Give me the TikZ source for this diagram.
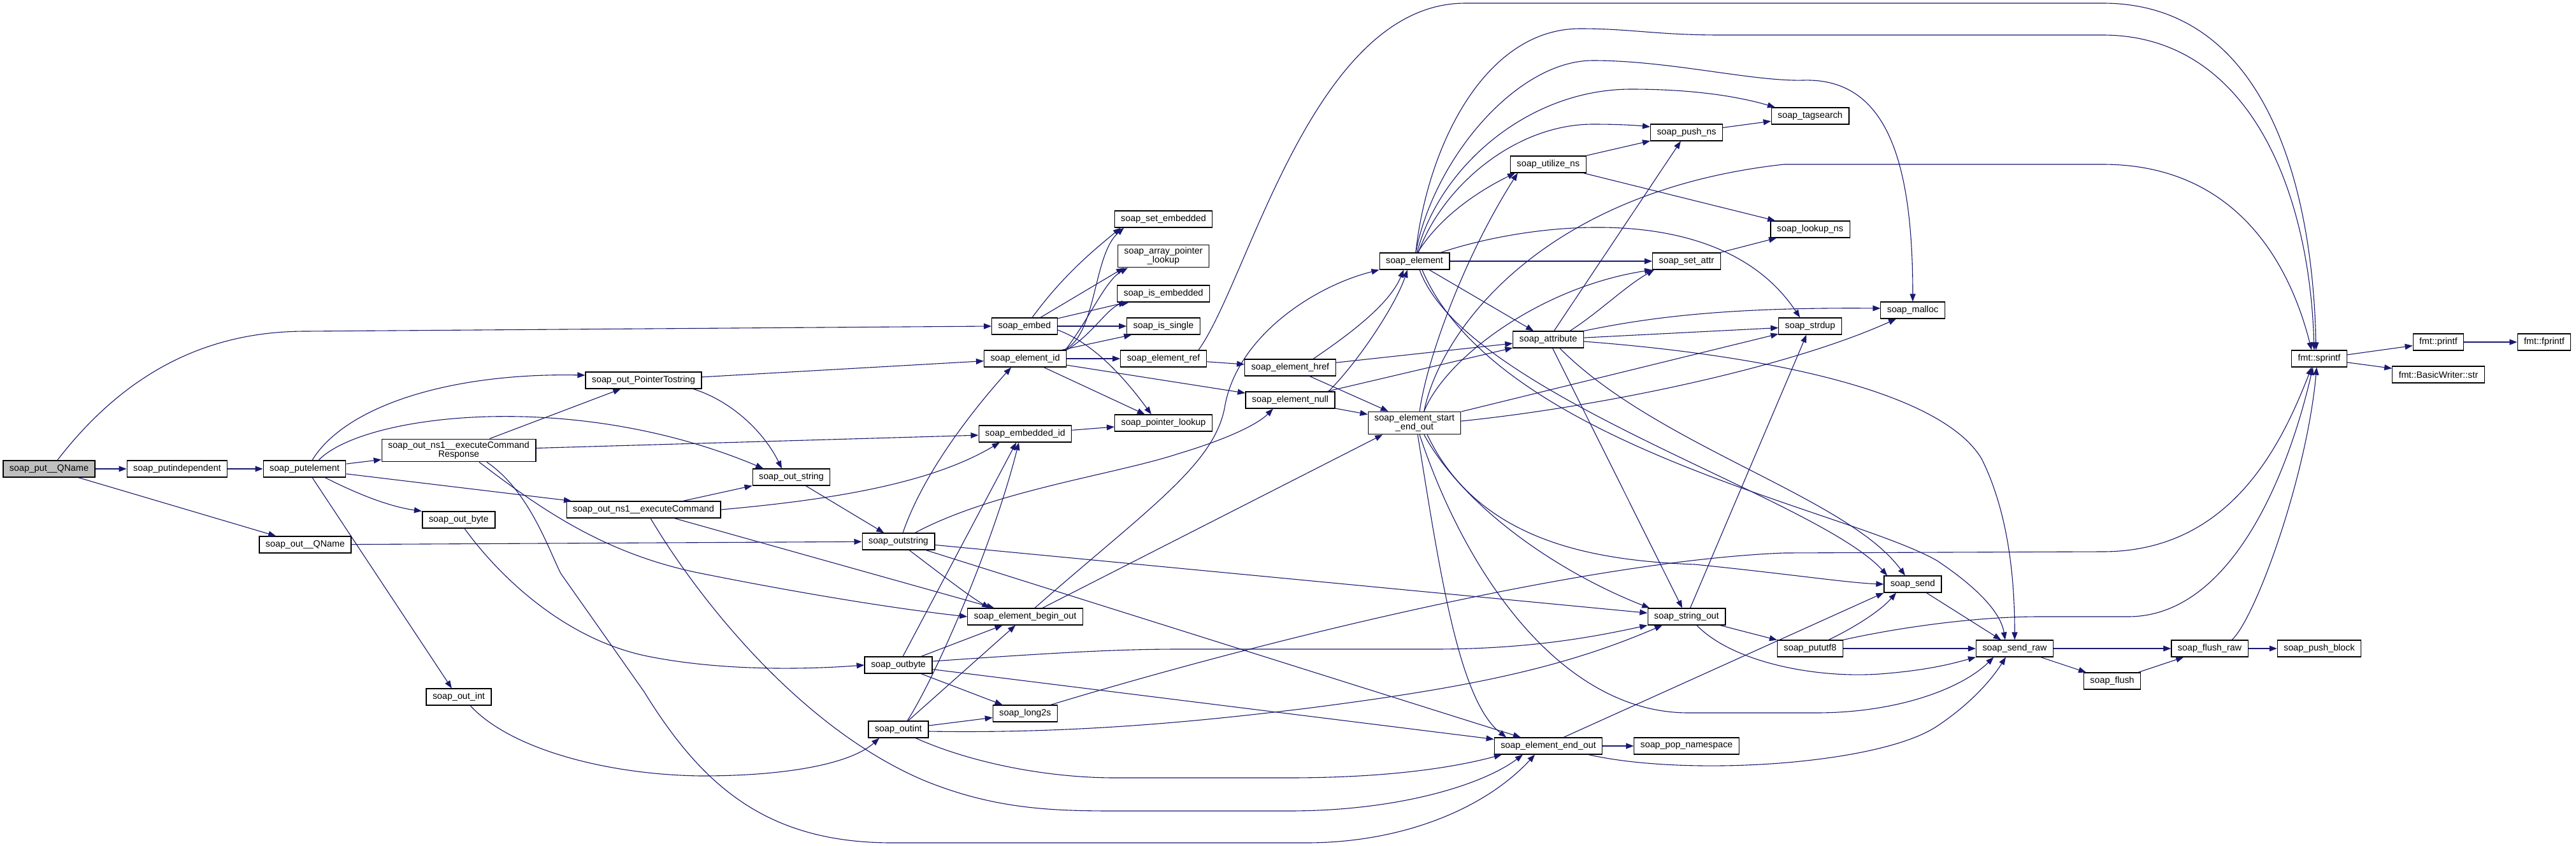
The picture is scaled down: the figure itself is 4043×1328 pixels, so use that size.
\documentclass[tikz,border=0pt]{standalone}
\usepackage{fontspec}
\setmainfont{Liberation Sans}
\usetikzlibrary{arrows.meta}
\definecolor{edgeblue}{HTML}{191970}
\definecolor{rootgray}{HTML}{BFBFBF}
\tikzset{
  box/.style={draw=black, fill=white, line width=1.2pt, font=\fontsize{14.3}{14.3}\selectfont,
    inner xsep=10pt, inner ysep=4pt, minimum height=26pt, align=center},
  call/.style={draw=edgeblue, line width=1.1pt, -{Triangle[length=12pt,width=9pt]}}
}
\begin{document}
\begin{tikzpicture}[x=1pt,y=-1pt]
\fill[white] (0,0) rectangle (4043,1328);

\node[box, fill=rootgray] (root) at (77,736) {soap\_put\_\_QName};
\node[box] (putind) at (278,736) {soap\_putindependent};
\node[box] (putel) at (478,736) {soap\_putelement};
\node[box] (outresp) at (720,707) {soap\_out\_ns1\_\_executeCommand\\Response};
\node[box] (outQN) at (479,855) {soap\_out\_\_QName};
\node[box] (outbyte) at (720,816) {soap\_out\_byte};
\node[box] (outint) at (720,1094) {soap\_out\_int};
\node[box] (outptr) at (1010,597) {soap\_out\_PointerTostring};
\node[box] (outcmd) at (1010,800) {soap\_out\_ns1\_\_executeCommand};
\node[box] (outstr) at (1242,749) {soap\_out\_string};
\node[box] (outstring) at (1410,850) {soap\_outstring};
\node[box] (outbyte2) at (1410,1044) {soap\_outbyte};
\node[box] (outint2) at (1410,1145) {soap\_outint};
\node[box] (embed) at (1608,512) {soap\_embed};
\node[box] (elid) at (1609,563) {soap\_element\_id};
\node[box] (embid) at (1609,681) {soap\_embedded\_id};
\node[box] (beginout) at (1609,968) {soap\_element\_begin\_out};
\node[box] (long2s) at (1609,1120) {soap\_long2s};
\node[box] (setemb) at (1826,344) {soap\_set\_embedded};
\node[box] (arrptr) at (1826,402) {soap\_array\_pointer\\\_lookup};
\node[box] (isemb) at (1826,461) {soap\_is\_embedded};
\node[box] (issingle) at (1826,512) {soap\_is\_single};
\node[box] (elref) at (1826,563) {soap\_element\_ref};
\node[box] (ptrlook) at (1826,664) {soap\_pointer\_lookup};
\node[box] (href) at (2025,577) {soap\_element\_href};
\node[box] (elnull) at (2025,628) {soap\_element\_null};
\node[box] (element) at (2220,410) {soap\_element};
\node[box] (startend) at (2220,664) {soap\_element\_start\\\_end\_out};
\node[box] (utilize) at (2430,258) {soap\_utilize\_ns};
\node[box] (attr) at (2430,533) {soap\_attribute};
\node[box] (endout) at (2430,1171) {soap\_element\_end\_out};
\node[box] (pushns) at (2647,208) {soap\_push\_ns};
\node[box] (setattr) at (2647,410) {soap\_set\_attr};
\node[box] (stringout) at (2647,968) {soap\_string\_out};
\node[box] (popns) at (2647,1171) {soap\_pop\_namespace};
\node[box] (tagsearch) at (2841,182) {soap\_tagsearch};
\node[box] (lookupns) at (2841,360) {soap\_lookup\_ns};
\node[box] (strdup) at (2841,512) {soap\_strdup};
\node[box] (pututf8) at (2841,1018) {soap\_pututf8};
\node[box] (malloc) at (3002,487) {soap\_malloc};
\node[box] (send) at (3002,917) {soap\_send};
\node[box] (sendraw) at (3162,1018) {soap\_send\_raw};
\node[box] (flush) at (3315,1069) {soap\_flush};
\node[box] (flushraw) at (3468,1018) {soap\_flush\_raw};
\node[box] (pushblock) at (3640,1018) {soap\_push\_block};
\node[box] (sprintf) at (3640,563) {fmt::sprintf};
\node[box] (printf) at (3827,537) {fmt::printf};
\node[box] (fprintf) at (3993,537) {fmt::fprintf};
\node[box] (bwstr) at (3827,588) {fmt::BasicWriter::str};

\foreach \a/\b in {root/putind, root/outQN, putind/putel, putel/outresp, putel/outcmd,
  outQN/outstring, outresp/outptr, outresp/embid, outptr/elid, outcmd/outstr, outcmd/beginout,
  outstr/outstring, outstring/stringout, outstring/endout, embed/isemb, embed/issingle,
  elid/elref, elid/elnull, elid/ptrlook, embid/ptrlook, elref/href, element/attr, element/setattr,
  href/attr, href/startend, elnull/startend, elnull/attr, startend/strdup, attr/strdup,
  attr/pushns, attr/stringout, stringout/strdup, stringout/pututf8, pututf8/sendraw,
  send/sendraw, sendraw/flushraw, sendraw/flush, flush/flushraw, flushraw/pushblock,
  sprintf/printf, sprintf/bwstr, printf/fprintf, endout/popns, utilize/pushns,
  utilize/lookupns, pushns/tagsearch, setattr/lookupns, outbyte2/beginout, outbyte2/long2s,
  outbyte2/endout, outint2/beginout, outint2/long2s}
  \draw[call] (\a) -- (\b);

\draw[call] ([xshift=13pt]root.north) .. controls (200,580) and (330,520) .. (480,520) -- (embed.west);
\draw[call] ([xshift=12pt]putel.north) .. controls (540,640) and (700,585) .. ([yshift=8pt]outptr.west);
\draw[call] ([xshift=22pt]putel.north) .. controls (570,650) and (900,610) .. ([xshift=-44pt]outstr.north);
\draw[call] ([xshift=32pt]putel.south) .. controls (560,775) and (610,795) .. ([xshift=-58pt]outbyte.north);
\draw[call] ([xshift=12pt]putel.south) -- ([xshift=-11pt]outint.north);
\draw[call] ([xshift=32pt]outresp.south) .. controls (850,800) and (950,870) .. (1100,900)
  .. controls (1250,930) and (1400,955) .. (beginout.west);
\draw[call] ([xshift=44pt]outresp.south) .. controls (830,770) and (860,860) .. (880,900) -- (1011,1086)
  .. controls (1100,1230) and (1200,1323) .. (1400,1323) -- (2050,1323)
  .. controls (2200,1323) and (2330,1270) .. ([xshift=-21pt]endout.south);
\draw[call] ([xshift=78pt]outptr.south) .. controls (1150,630) and (1200,680) .. ([xshift=-15pt]outstr.north);
\draw[call] (outcmd.east) .. controls (1300,785) and (1460,760) .. ([xshift=-40pt]embid.south);
\draw[call] ([xshift=11pt]outcmd.south) .. controls (1090,930) and (1250,1140) .. (1450,1225)
  .. controls (1560,1270) and (1650,1273) .. (1750,1273) -- (2022,1273)
  .. controls (2200,1273) and (2330,1230) .. ([xshift=-40pt]endout.south);
\draw[call] ([xshift=9pt]outbyte.south) .. controls (780,900) and (880,1000) .. (1011,1029)
  .. controls (1120,1052) and (1250,1052) .. (outbyte2.west);
\draw[call] ([xshift=18pt]outint.south) .. controls (800,1175) and (950,1216) .. (1100,1218)
  .. controls (1250,1218) and (1340,1195) .. ([xshift=-30pt]outint2.south);
\draw[call] ([xshift=7pt]outstring.north) .. controls (1450,740) and (1530,640) .. ([xshift=-22pt]elid.south);
\draw[call] ([xshift=26pt]outstring.north) .. controls (1560,770) and (1750,745) .. (1850,712)
  .. controls (1930,688) and (1975,665) .. ([xshift=-27pt]elnull.south);
\draw[call] ([xshift=17pt]outstring.south) .. controls (1475,900) and (1520,935) .. ([xshift=-56pt]beginout.north);
\draw[call] ([yshift=-6pt]embed.east) .. controls (1720,540) and (1770,600) .. ([xshift=-19pt]ptrlook.north);
\draw[call] ([xshift=12pt]embed.north) .. controls (1670,430) and (1720,390) .. ([xshift=-67pt]setemb.south);
\draw[call] ([xshift=25pt]embed.north) -- ([xshift=-62pt]arrptr.south);
\draw[call] ([xshift=-4pt]elid.north east) .. controls (1722,525) and (1715,400) .. ([xshift=-62pt]setemb.south);
\draw[call] (elid.north east) .. controls (1715,525) and (1740,480) .. ([xshift=-54pt]isemb.south);
\draw[call] ([xshift=-8pt]elid.north east) -- ([xshift=-50pt]issingle.south);
\draw[call] ([xshift=-2pt]elid.north east) .. controls (1710,500) and (1735,440) .. ([xshift=-56pt]arrptr.south);
\draw[call] ([xshift=55pt]elref.north) .. controls (1960,440) and (2060,5) .. (2300,5) -- (3300,5)
  .. controls (3560,5) and (3630,300) .. ([xshift=-5pt]sprintf.north);
\draw[call] ([xshift=2pt]element.north) .. controls (2240,230) and (2330,45) .. (2480,45)
  .. controls (2560,45) and (2600,55) .. (2700,55) -- (3300,55)
  .. controls (3530,55) and (3625,300) .. ([xshift=-8pt]sprintf.north);
\draw[call] ([xshift=2pt]element.north) .. controls (2250,250) and (2380,95) .. (2500,95)
  .. controls (2620,95) and (2750,128) .. (2830,126) .. controls (2960,122) and (3002,250) .. (malloc.north);
\draw[call] ([xshift=4pt]element.north) .. controls (2260,260) and (2400,140) .. (2560,140)
  .. controls (2660,140) and (2730,152) .. ([xshift=-55pt]tagsearch.north);
\draw[call] ([xshift=6pt]element.north) .. controls (2265,290) and (2380,195) .. (2500,195)
  .. controls (2545,195) and (2570,197) .. ([yshift=9pt]pushns.west);
\draw[call] ([xshift=41pt]element.north) .. controls (2400,350) and (2700,310) .. ([xshift=-16pt]strdup.north);
\draw[call] ([xshift=5pt]element.north) .. controls (2260,340) and (2320,300) .. ([xshift=-52pt]utilize.south);
\draw[call] ([xshift=8pt]element.south) .. controls (2300,620) and (2850,780) .. ([xshift=-40pt]send.north);
\draw[call] ([xshift=12pt]element.south) .. controls (2350,700) and (2900,800) .. (3040,880)
  .. controls (3100,920) and (3140,960) .. ([xshift=-15pt]sendraw.north);
\draw[call] ([xshift=36pt]href.north) .. controls (2110,530) and (2180,480) .. ([xshift=-17pt]element.south);
\draw[call] ([xshift=60pt]elnull.north) .. controls (2130,570) and (2190,480) .. ([xshift=-11pt]element.south);
\draw[call] ([xshift=15pt]beginout.north) .. controls (1800,800) and (1905,730) .. (1922,640)
  .. controls (1940,530) and (2060,450) .. (element.south west);
\draw[call] ([xshift=27pt]beginout.north) -- ([xshift=-50pt]startend.south);
\draw[call] ([xshift=8pt]startend.north) .. controls (2240,560) and (2300,400) .. ([xshift=-48pt]utilize.south);
\draw[call] ([xshift=15pt]startend.north) .. controls (2260,520) and (2420,300) .. (2800,258) -- (3300,258)
  .. controls (3500,258) and (3590,400) .. ([xshift=-12pt]sprintf.north);
\draw[call] ([xshift=15pt]startend.north) .. controls (2270,560) and (2420,450) .. (setattr.south west);
\draw[call] ([yshift=3pt]startend.east) .. controls (2500,640) and (2800,580) .. ([xshift=-26pt]malloc.south);
\draw[call] ([xshift=5pt]startend.south) .. controls (2260,900) and (2290,1100) .. ([xshift=-66pt]endout.north);
\draw[call] ([xshift=8pt]startend.south) .. controls (2300,900) and (2450,1119) .. (2650,1119) -- (2850,1119)
  .. controls (2980,1119) and (3080,1080) .. ([xshift=-33pt]sendraw.south);
\draw[call] ([xshift=15pt]startend.south) .. controls (2300,800) and (2450,900) .. ([xshift=-58pt]stringout.north);
\draw[call] ([xshift=20pt]startend.south) .. controls (2320,850) and (2500,880) .. (2660,886)
  .. controls (2800,900) and (2900,915) .. (send.west);
\draw[call] (attr.north east) .. controls (2580,500) and (2700,482) .. ([yshift=3pt]malloc.west);
\draw[call] ([xshift=34pt]attr.north) .. controls (2510,490) and (2550,450) .. ([xshift=3pt]setattr.south west);
\draw[call] ([yshift=-3pt]attr.east) .. controls (2800,560) and (3050,620) .. (3110,720)
  .. controls (3150,800) and (3162,900) .. (sendraw.north);
\draw[call] ([xshift=18pt]attr.south) .. controls (2600,700) and (2900,780) .. ([xshift=-12pt]send.north);
\draw[call] ([xshift=16pt]stringout.south) .. controls (2720,1040) and (2850,1065) .. (2950,1058)
  .. controls (3030,1052) and (3070,1040) .. (sendraw.south west);
\draw[call] ([xshift=29pt]pututf8.north) .. controls (2910,985) and (2950,960) .. ([xshift=-26pt]send.south);
\draw[call] (pututf8.north east) .. controls (2980,985) and (3100,968) .. (3200,968) -- (3340,968)
  .. controls (3500,968) and (3590,750) .. ([xshift=-10pt]sprintf.south);
\draw[call] ([xshift=40pt]long2s.north) .. controls (2000,1000) and (2500,880) .. (2800,868) -- (3300,866)
  .. controls (3500,866) and (3580,700) .. ([xshift=-12pt]sprintf.south);
\draw[call] ([xshift=35pt]flushraw.north) .. controls (3540,970) and (3620,750) .. ([xshift=-4pt]sprintf.south);
\draw[call] ([xshift=24pt]endout.north) -- (send.south west);
\draw[call] ([xshift=63pt]endout.south) .. controls (2650,1220) and (2950,1200) .. (3040,1140)
  .. controls (3100,1100) and (3130,1060) .. ([xshift=-14pt]sendraw.south);
\draw[call] ([xshift=7pt]outbyte2.north) -- ([xshift=-14pt]embid.south);
\draw[call] ([xshift=14pt]outint2.north) .. controls (1470,1060) and (1560,850) .. ([xshift=-10pt]embid.south);
\draw[call] ([yshift=6pt]outbyte2.east) .. controls (1650,1025) and (1750,1019) .. (1850,1019) -- (2250,1019)
  .. controls (2400,1019) and (2500,1000) .. (stringout.south west);
\draw[call] ([yshift=-3pt]outint2.east) .. controls (1700,1152) and (1900,1130) .. (2050,1112)
  .. controls (2300,1080) and (2450,1050) .. ([xshift=-38pt]stringout.south);
\draw[call] ([xshift=27pt]outint2.south) .. controls (1530,1200) and (1650,1221) .. (1750,1221) -- (2022,1221)
  .. controls (2200,1221) and (2300,1200) .. ([xshift=-73pt]endout.south);
\end{tikzpicture}
\end{document}
